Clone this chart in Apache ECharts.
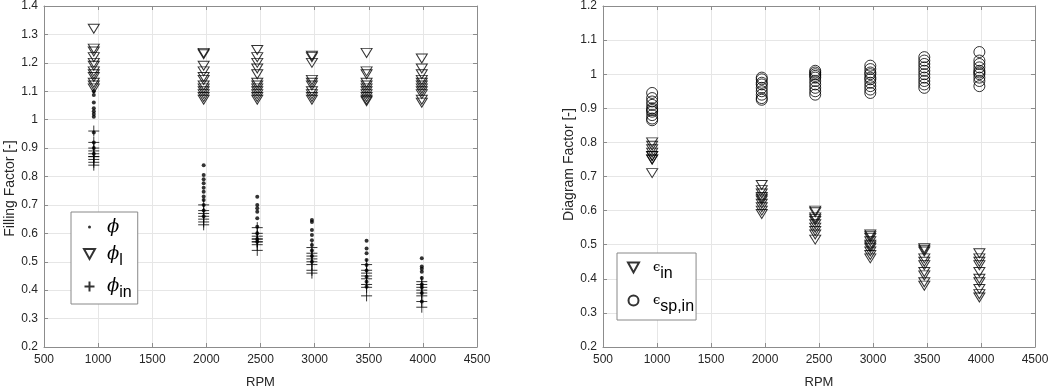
<!DOCTYPE html>
<html>
<head>
<meta charset="utf-8">
<script src="https://cdn.jsdelivr.net/npm/echarts@6/dist/echarts.min.js"></script>
<style>
  html, body { margin: 0; padding: 0; background: #fff; }
  #chart { width: 1050px; height: 389px; }
</style>
</head>
<body>
<div id="chart"></div>
<script>
// x positions of the measurement columns (RPM)
const rpmLeft = [960, 1975, 2470, 2975, 3480, 3990];
const rpmRight = [955, 1970, 2465, 2975, 3475, 3985];

// Filling factor, one inner list per RPM column
const phi = [
  [1.10, 1.087, 1.06, 1.04, 1.03, 1.02, 1.01, 0.955, 0.92, 0.90, 0.88],
  [0.84, 0.805, 0.79, 0.776, 0.76, 0.746, 0.73, 0.717, 0.70, 0.68, 0.66],
  [0.729, 0.70, 0.688, 0.676, 0.653, 0.623, 0.60, 0.58, 0.57],
  [0.647, 0.64, 0.612, 0.594, 0.576, 0.559, 0.54, 0.52, 0.50],
  [0.574, 0.547, 0.53, 0.506, 0.489, 0.469, 0.447, 0.43, 0.412],
  [0.512, 0.483, 0.475, 0.465, 0.443, 0.42, 0.41, 0.39, 0.36]
];
const phiL = [
  [1.32, 1.25, 1.24, 1.22, 1.20, 1.19, 1.17, 1.16, 1.15, 1.13, 1.12, 1.11],
  [1.235, 1.23, 1.19, 1.17, 1.15, 1.14, 1.12, 1.11, 1.10, 1.09, 1.08, 1.07],
  [1.245, 1.22, 1.20, 1.18, 1.16, 1.13, 1.12, 1.11, 1.10, 1.09, 1.08, 1.07],
  [1.225, 1.22, 1.20, 1.14, 1.13, 1.12, 1.10, 1.09, 1.08, 1.07],
  [1.235, 1.17, 1.16, 1.13, 1.12, 1.11, 1.10, 1.09, 1.08, 1.07, 1.065],
  [1.215, 1.18, 1.16, 1.14, 1.13, 1.12, 1.11, 1.10, 1.09, 1.07, 1.06]
];
const phiIn = [
  [0.96, 0.92, 0.90, 0.89, 0.88, 0.87, 0.87, 0.86, 0.85, 0.84],
  [0.70, 0.68, 0.67, 0.66, 0.65, 0.64, 0.63],
  [0.62, 0.60, 0.59, 0.58, 0.58, 0.57, 0.57, 0.56, 0.54],
  [0.55, 0.53, 0.52, 0.51, 0.50, 0.49, 0.47, 0.46],
  [0.49, 0.47, 0.46, 0.45, 0.44, 0.42, 0.41, 0.38],
  [0.43, 0.42, 0.41, 0.40, 0.39, 0.38, 0.36, 0.34]
];

// Diagram factor
const epsIn = [
  [0.80, 0.79, 0.78, 0.77, 0.76, 0.76, 0.75, 0.75, 0.71],
  [0.675, 0.66, 0.65, 0.64, 0.635, 0.63, 0.62, 0.61, 0.60, 0.59],
  [0.60, 0.595, 0.58, 0.575, 0.57, 0.56, 0.55, 0.54, 0.53, 0.515],
  [0.53, 0.525, 0.52, 0.51, 0.50, 0.495, 0.49, 0.48, 0.47, 0.46],
  [0.49, 0.485, 0.48, 0.46, 0.45, 0.44, 0.42, 0.41, 0.39, 0.38],
  [0.475, 0.46, 0.45, 0.44, 0.42, 0.40, 0.39, 0.37, 0.355, 0.345]
];
const epsSpIn = [
  [0.945, 0.93, 0.92, 0.91, 0.90, 0.895, 0.89, 0.88, 0.87, 0.865],
  [0.99, 0.985, 0.975, 0.97, 0.96, 0.95, 0.94, 0.93, 0.925],
  [1.01, 1.005, 1.0, 0.995, 0.99, 0.98, 0.97, 0.96, 0.95, 0.94],
  [1.025, 1.015, 1.005, 1.0, 0.99, 0.985, 0.975, 0.965, 0.955, 0.945],
  [1.05, 1.04, 1.03, 1.02, 1.01, 1.0, 0.99, 0.98, 0.97, 0.96],
  [1.065, 1.04, 1.03, 1.02, 1.01, 1.005, 1.0, 0.99, 0.98, 0.965]
];

function toPoints(xs, cols) {
  let pts = [];
  cols.forEach((col, i) => col.forEach(v => pts.push([xs[i], v])));
  return pts;
}

const axisGray = '#8c8c8c';
const labelColor = '#262626';
const font = 'Liberation Sans, Arial, sans-serif';

const triIcon = 'path://M0,0L10,0L5,9Z';
const plusIcon = 'path://M0,5L10,5M5,0L5,10';
const dotIcon = 'path://M0,0M10,10M3.5,5A1.5,1.5,0,1,1,6.5,5A1.5,1.5,0,1,1,3.5,5Z';

function xAx(gi, bottom) {
  return {
    type: 'value', gridIndex: gi, position: bottom ? 'bottom' : 'top',
    min: 500, max: 4500, interval: 500,
    name: bottom ? 'RPM' : '', nameLocation: 'middle', nameGap: 29,
    nameTextStyle: { color: labelColor, fontSize: 13, fontFamily: font },
    axisLine: { show: true, onZero: false, lineStyle: { color: axisGray } },
    axisTick: { show: true, inside: true, length: 4, lineStyle: { color: axisGray } },
    axisLabel: { show: bottom, color: labelColor, fontSize: 12, fontFamily: font, margin: 7,
      formatter: v => String(v) },
    splitLine: { show: bottom, lineStyle: { color: '#e6e6e6' } }
  };
}
function yAx(gi, left, max, name, gap, pad) {
  return {
    type: 'value', gridIndex: gi, position: left ? 'left' : 'right',
    min: 0.2, max: max, interval: 0.1,
    name: left ? name : '', nameLocation: 'middle', nameGap: gap,
    nameTextStyle: { color: labelColor, fontSize: 14, fontFamily: font, padding: pad },
    axisLine: { show: true, onZero: false, lineStyle: { color: axisGray } },
    axisTick: { show: true, inside: true, length: 4, lineStyle: { color: axisGray } },
    axisLabel: { show: left, color: labelColor, fontSize: 12, fontFamily: font, margin: 6,
      formatter: v => String(+v.toFixed(1)) },
    splitLine: { show: left, lineStyle: { color: '#e6e6e6' } }
  };
}

const legendNames = {
  phi: '{g|ϕ}',
  phi_l: '{g|ϕ}{s|l}',
  phi_in: '{g|ϕ}{s|in}',
  eps_in: '{e|ϵ}{s|in}',
  eps_sp: '{e|ϵ}{s|sp,in}'
};
const richText = {
  g: { fontSize: 18, fontStyle: 'italic', fontFamily: 'DejaVu Serif', color: '#000', padding: [0, 0, 0, 7] },
  e: { fontSize: 13, fontFamily: 'DejaVu Serif', color: '#000', padding: [0, 0, 0, 9] },
  s: { fontSize: 16, fontFamily: font, color: '#000', padding: [13, 0, 0, 0] }
};

const hollow = { color: 'rgba(0,0,0,0)', borderColor: '#000', borderWidth: 1 };

const chart = echarts.init(document.getElementById('chart'), null, { renderer: 'canvas' });
chart.setOption({
  animation: false,
  backgroundColor: '#fff',
  grid: [
    { left: 44, top: 6, width: 433, height: 341, outerBoundsMode: 'none' },
    { left: 603, top: 6, width: 432, height: 341, outerBoundsMode: 'none' }
  ],
  xAxis: [xAx(0, true), xAx(0, false), xAx(1, true), xAx(1, false)],
  yAxis: [
    yAx(0, true, 1.4, 'Filling Factor [-]', 19, [0, 24, 0, 0]), yAx(0, false, 1.4, '', 0, 0),
    yAx(1, true, 1.2, 'Diagram Factor [-]', 21, [0, 0, 0, 24]), yAx(1, false, 1.2, '', 0, 0)
  ],
  legend: [
    {
      left: 71, top: 212, orient: 'vertical', selectedMode: false,
      data: [
        { name: 'phi', icon: dotIcon },
        { name: 'phi_l', icon: triIcon },
        { name: 'phi_in', icon: plusIcon }
      ],
      formatter: n => legendNames[n],
      textStyle: { rich: richText },
      itemWidth: 11, itemHeight: 10, itemGap: 9,
      padding: [6, 6, 3, 12],
      borderColor: '#888', borderWidth: 1, backgroundColor: '#fff'
    },
    {
      left: 617, top: 253, orient: 'vertical', selectedMode: false,
      data: [
        { name: 'eps_in', icon: triIcon },
        { name: 'eps_sp', icon: 'circle' }
      ],
      formatter: n => legendNames[n],
      textStyle: { rich: richText },
      itemWidth: 11, itemHeight: 10, itemGap: 12,
      padding: [8, 2, 5, 10],
      borderColor: '#888', borderWidth: 1, backgroundColor: '#fff'
    }
  ],
  series: [
    {
      name: 'phi', type: 'scatter', xAxisIndex: 0, yAxisIndex: 0,
      symbol: 'circle', symbolSize: 4,
      itemStyle: { color: '#000' },
      data: toPoints(rpmLeft, phi)
    },
    {
      name: 'phi_l', type: 'scatter', xAxisIndex: 0, yAxisIndex: 0,
      symbol: triIcon, symbolSize: [11, 9],
      itemStyle: hollow,
      data: toPoints(rpmLeft, phiL)
    },
    {
      name: 'phi_in', type: 'scatter', xAxisIndex: 0, yAxisIndex: 0,
      symbol: plusIcon, symbolSize: [11, 11],
      itemStyle: hollow,
      data: toPoints(rpmLeft, phiIn)
    },
    {
      name: 'eps_in', type: 'scatter', xAxisIndex: 2, yAxisIndex: 2,
      symbol: triIcon, symbolSize: [11, 9],
      itemStyle: hollow,
      data: toPoints(rpmRight, epsIn)
    },
    {
      name: 'eps_sp', type: 'scatter', xAxisIndex: 2, yAxisIndex: 2,
      symbol: 'circle', symbolSize: 11,
      itemStyle: hollow,
      data: toPoints(rpmRight, epsSpIn)
    }
  ]
});
</script>
</body>
</html>
